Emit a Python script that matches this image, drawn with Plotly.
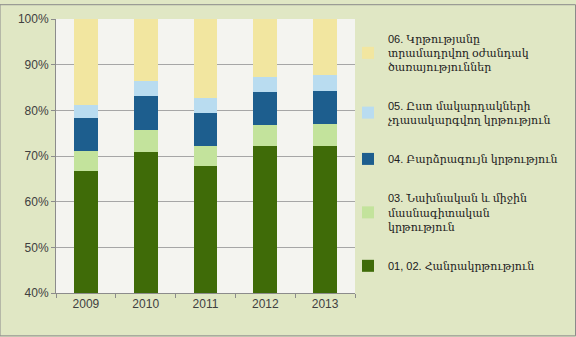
import plotly.graph_objects as go

years = ["2009", "2010", "2011", "2012", "2013"]
s0102 = [66.8, 70.8, 67.8, 72.2, 72.3]
s03 = [4.4, 4.9, 4.4, 4.6, 4.8]
s04 = [7.1, 7.5, 7.3, 7.2, 7.2]
s05 = [2.9, 3.3, 3.2, 3.4, 3.5]
s06 = [18.8, 13.5, 17.3, 12.6, 12.2]

names = [
    "01, 02. Հանրակրթություն",
    "03. Նախնական և միջին<br>մասնագիտական<br>կրթություն",
    "04. Բարձրագույն կրթություն",
    "05. Ըստ մակարդակների<br>չդասակարգվող կրթություն",
    "06. Կրթությանը<br>տրամադրվող օժանդակ<br>ծառայություններ",
]
series = [s0102, s03, s04, s05, s06]
colors = ["#3f6b08", "#c3e39c", "#1d5e8e", "#b9dcf0", "#f2e6a0"]

W, H = 576, 337
L, R, T, B = 56, 221, 15, 44
pw = W - L - R
ph = H - T - B

fig = go.Figure()
for i, (nm, vals, c) in enumerate(zip(names, series, colors)):
    fig.add_trace(go.Bar(x=years, y=vals, name=nm, marker_color=c,
                         marker_line_width=0, legendgroup=str(i), legendrank=100 - i))

font_fam = "Liberation Sans, DejaVu Serif, DejaVu Sans"
fig.update_layout(
    width=W, height=H,
    margin=dict(l=L, r=R, t=T, b=B),
    barmode="stack", bargap=0.6,
    paper_bgcolor="#e0e7c4", plot_bgcolor="#f4f4f0",
    font=dict(family=font_fam, size=12, color="#404040"),
    legend=dict(x=(348 - L) / pw, y=1 - (21 - T) / ph, xanchor="left", yanchor="top",
                traceorder="grouped", tracegroupgap=21,
                bgcolor="rgba(0,0,0,0)", font=dict(family=font_fam, size=11, color="#202020"),
                itemwidth=30),
    showlegend=True,
)
fig.update_yaxes(range=[40, 100], tickvals=[40, 50, 60, 70, 80, 90, 100],
                 ticktext=["40%", "50%", "60%", "70%", "80%", "90%", "100%"],
                 showgrid=True, gridcolor="#a6a6a6", gridwidth=1,
                 showline=True, linecolor="#8c8c8c", ticks="outside", ticklen=4,
                 tickcolor="#8c8c8c", zeroline=False, tickfont=dict(size=12))
fig.update_xaxes(showline=True, linecolor="#8c8c8c", ticks="outside", ticklen=4,
                 tickcolor="#8c8c8c", tickson="boundaries", tickfont=dict(size=12))
fig.add_shape(type="rect", xref="paper", yref="paper",
              x0=-L / pw, x1=(W - L - 0.5) / pw, y0=-(B - 0.5) / ph, y1=1 + (T - 0.5) / ph,
              line=dict(color="#8a8a8a", width=1), fillcolor="rgba(0,0,0,0)")
fig.write_html("out.html")
